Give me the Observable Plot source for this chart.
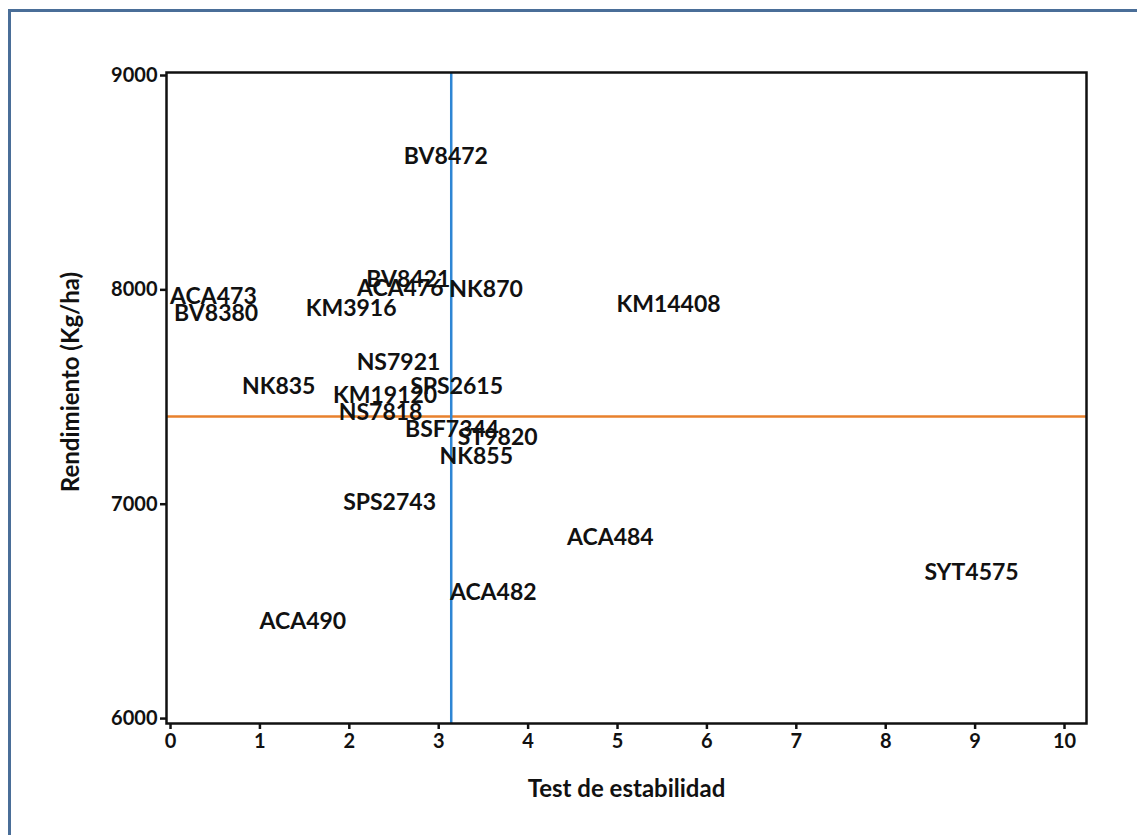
<!DOCTYPE html>
<html>
<head>
<meta charset="utf-8">
<script src="https://cdn.jsdelivr.net/npm/d3@7"></script>
<script src="https://cdn.jsdelivr.net/npm/@observablehq/plot@0.6"></script>
<style>
  html, body { margin: 0; padding: 0; background: #fff; }
  #wrap { position: relative; width: 1137px; height: 835px; overflow: hidden; }
  #border { position: absolute; left: 8px; top: 9px; width: 2000px; height: 2000px;
            border-left: 3px solid #4a6e98; border-top: 3px solid #4a6e98; box-sizing: border-box; }
  #chart { position: absolute; left: 0; top: 0; }
  svg { font-family: Lato, "Open Sans", sans-serif; }
</style>
</head>
<body>
<div id="wrap"><div id="border"></div><div id="chart"></div></div>
<script>
const hybrids = ["BV8472","BV8421","ACA476","NK870","ACA473","BV8380","KM3916","KM14408","NS7921","NK835","SPS2615","KM19120","NS7818","BSF7344","ST9820","NK855","SPS2743","ACA484","SYT4575","ACA482","ACA490"];
const stability = [3.08,2.66,2.57,3.53,0.48,0.51,2.02,5.57,2.55,1.21,3.20,2.40,2.35,3.15,3.66,3.42,2.45,4.92,8.96,3.61,1.48];
const yieldKg = [8622,8048,8006,8001,7969,7889,7913,7931,7661,7549,7549,7507,7427,7348,7311,7222,7007,6844,6681,6587,6452];
const meanYield = 7409;
const meanStability = 3.14;
const xTicks = [0,1,2,3,4,5,6,7,8,9,10];
const yTicks = [6000,7000,8000,9000];
const xTitle = "Test de estabilidad";
const yTitle = "Rendimiento (Kg/ha)";

const data = hybrids.map((h, i) => ({name: h, x: stability[i], y: yieldKg[i]}));

const chart = Plot.plot({
  width: 1137,
  height: 835,
  marginLeft: 166,
  marginRight: 51,
  marginTop: 72,
  marginBottom: 112,
  style: {fontFamily: "Lato, 'Open Sans', sans-serif", background: "transparent", color: "#111"},
  x: {domain: [-0.045, 10.246]},
  y: {domain: [5977, 9014]},
  marks: [
    Plot.ruleY([meanYield], {stroke: "#e8812d", strokeWidth: 2.5}),
    Plot.ruleX([meanStability], {stroke: "#2e86d4", strokeWidth: 2.5}),
    Plot.text(data, {x: "x", y: "y", text: "name", fontSize: 23, fontWeight: "bold", fill: "#111"}),
    Plot.frame({stroke: "#111", strokeWidth: 2.5}),
    Plot.axisX({ticks: xTicks, tickSize: 6, tickPadding: 4, fontSize: 20, fontWeight: "bold",
      stroke: "#111", strokeWidth: 2.5, label: null}),
    Plot.axisY({ticks: yTicks, tickSize: 6, tickPadding: 3, fontSize: 20, fontWeight: "bold",
      stroke: "#111", strokeWidth: 2.5, tickFormat: d => String(d), label: null}),
    Plot.text([xTitle], {frameAnchor: "bottom", dy: 73, text: d => d, fontSize: 24, fontWeight: "bold", fill: "#111"}),
    Plot.text([yTitle], {frameAnchor: "left", dx: -95, dy: -16, rotate: -90, textAnchor: "middle", text: d => d, fontSize: 24, fontWeight: "bold", fill: "#111"})
  ]
});
document.getElementById("chart").appendChild(chart);
</script>
</body>
</html>
